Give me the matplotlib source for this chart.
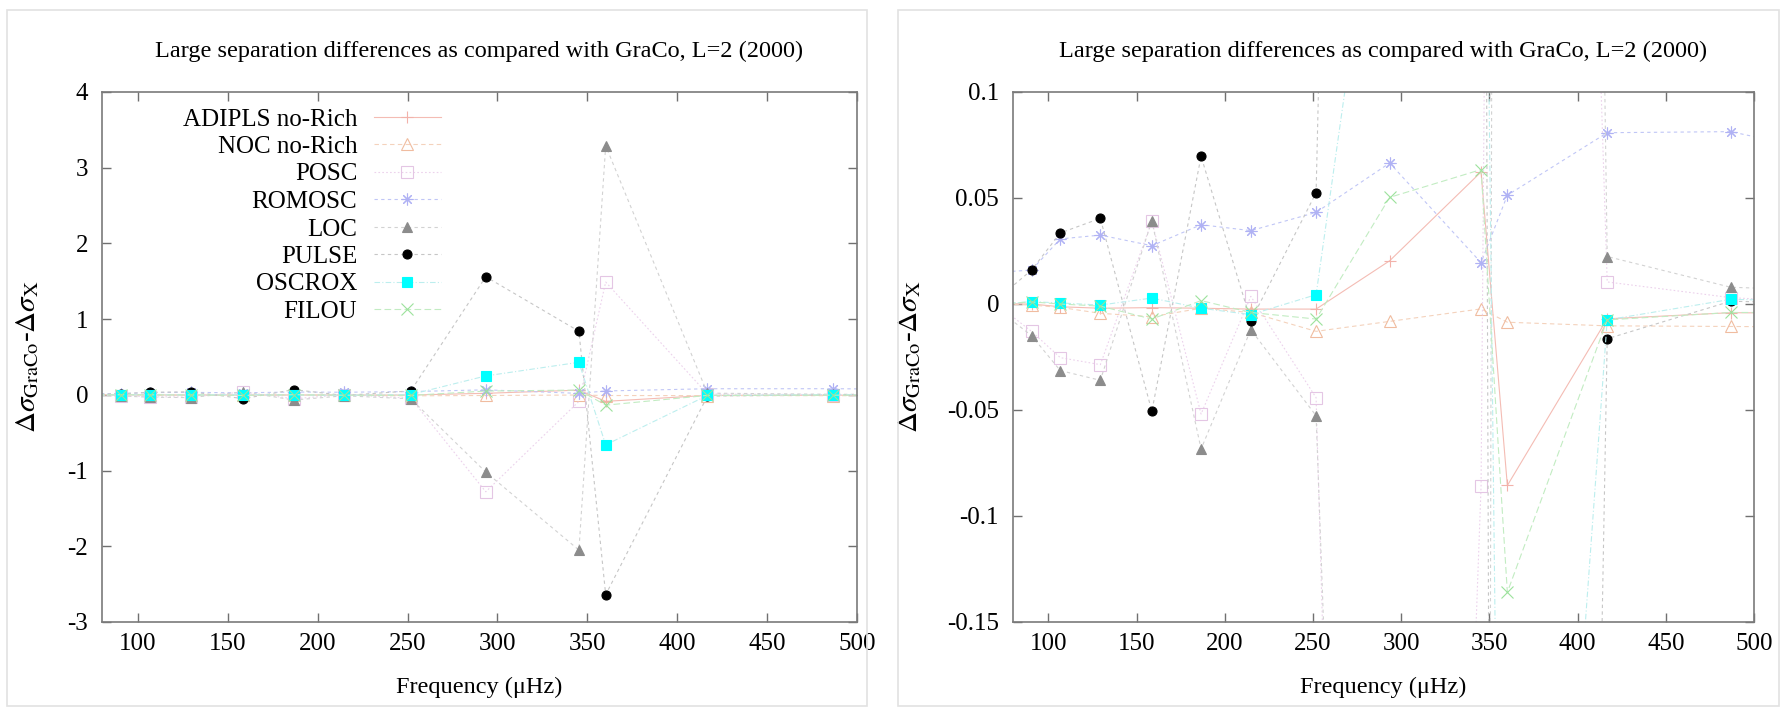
import matplotlib
matplotlib.use("Agg")
import matplotlib.pyplot as plt
from matplotlib.patches import Rectangle
from matplotlib.ticker import FuncFormatter

plt.rcParams['font.family'] = ['Liberation Serif', 'DejaVu Serif']
plt.rcParams['mathtext.fontset'] = 'stix'
plt.rcParams['axes.unicode_minus'] = False

# ---- data ----
freq = [72, 90.5, 106.8, 129.5, 158.7, 186.6, 214.8, 251.8, 293.5, 345.3, 360.2, 416.8, 486.8, 556]
adipls = [0.0, 0.0, -0.0013, -0.002, -0.0017, -0.002, -0.0024, -0.0024, 0.0204, 0.0623, -0.0856, -0.007, -0.0041, -0.0045]
noc = [0.0, -0.0005, -0.0016, -0.0044, -0.006, -0.002, -0.004, -0.0129, -0.0082, -0.0023, -0.0086, -0.0103, -0.0106, -0.011]
posc = [-0.001, -0.0129, -0.0253, -0.0286, 0.039, -0.0519, 0.0036, -0.0442, -1.28, -0.086, 1.49, 0.0104, 0.003, 0.0]
romosc = [0.015, 0.016, 0.0307, 0.0325, 0.0275, 0.0374, 0.0346, 0.0432, 0.0665, 0.0195, 0.0513, 0.0808, 0.0813, 0.069]
loc = [-0.003, -0.0149, -0.0314, -0.036, 0.0392, -0.0684, -0.0121, -0.0527, -1.02, -2.05, 3.29, 0.0224, 0.0079, 0.006]
pulse = [0.003, 0.016, 0.0335, 0.0404, -0.0506, 0.0697, -0.008, 0.0525, 1.56, 0.84, -2.64, -0.0164, 0.0013, 0.0]
oscrox = [0.0, 0.0011, 0.0005, -0.0005, 0.0028, -0.002, -0.005, 0.0044, 0.25, 0.43, -0.66, -0.0075, 0.0022, 0.001]
filou = [0.0, 0.001, 0.0, -0.001, -0.0071, 0.0016, -0.004, -0.0071, 0.0503, 0.0634, -0.136, -0.0075, -0.004, -0.004]

labels = ["ADIPLS no-Rich", "NOC no-Rich", "POSC", "ROMOSC", "LOC", "PULSE", "OSCROX", "FILOU"]
series = [adipls, noc, posc, romosc, loc, pulse, oscrox, filou]
xticks = [100, 150, 200, 250, 300, 350, 400, 450, 500]
yticks_left = [-3, -2, -1, 0, 1, 2, 3, 4]
yticks_right = [-0.15, -0.1, -0.05, 0, 0.05, 0.1]
title = "Large separation differences as compared with GraCo, L=2 (2000)"

styles = [
    dict(color='#f4bcb4', ls='-', marker='+', mfc='#f2b2aa', mec='#f2b2aa', ms=9),
    dict(color='#f4d2bc', ls=(0, (4, 3)), marker='^', mfc='none', mec='#f0bca0', ms=8),
    dict(color='#ecd2ec', ls=(0, (1.5, 2)), marker='s', mfc='none', mec='#e4c6e4', ms=8),
    dict(color='#c0c6f6', ls=(0, (3, 3)), marker=(8, 2, 0), mfc='#b0b2f4', mec='#b0b2f4', ms=8.5),
    dict(color='#d2d2d2', ls=(0, (3, 3)), marker='^', mfc='#8c8c8c', mec='#8c8c8c', ms=7.5),
    dict(color='#c6c6c6', ls=(0, (3, 3)), marker='o', mfc='black', mec='black', ms=6.5),
    dict(color='#bceeee', ls=(0, (5, 2, 1, 2)), marker='s', mfc='#00ffff', mec='#00ffff', ms=7),
    dict(color='#c2ecc2', ls=(0, (6, 3)), marker='x', mfc='#9ce29c', mec='#9ce29c', ms=8),
]

W, H = 1780, 707
fig = plt.figure(figsize=(W / 100, H / 100), dpi=100)

# panel frames
for (x0, x1) in [(7, 867), (898, 1779)]:
    fig.add_artist(Rectangle((x0 / W, 1 - 706 / H), (x1 - x0) / W, (706 - 10) / H,
                             transform=fig.transFigure, fill=False, ec='#e2e2e2', lw=1.2))

def make_axes(left_px, right_px, ylim, yticks, fmt, ylab_x, legend):
    ax = fig.add_axes([left_px / W, (H - 622) / H, (right_px - left_px) / W, 530 / H])
    for s, st in zip(series, styles):
        ax.plot(freq, s, lw=0.8, mew=0.8, **st)
    ax.set_xlim(80, 500)
    ax.set_ylim(*ylim)
    ax.set_xticks(xticks)
    ax.set_yticks(yticks)
    ax.yaxis.set_major_formatter(FuncFormatter(fmt))
    ax.tick_params(direction='in', length=6.5, width=1.0, color='#707070',
                   top=True, right=True, labelsize=18, pad=8)
    ax.tick_params(axis='y', pad=10)
    for sp in ax.spines.values():
        sp.set_color('#7a7a7a')
        sp.set_linewidth(1.2)
    ax.text(0.5, 1 + (92 - 51) / 530, title, transform=ax.transAxes,
            ha='center', va='center', fontsize=17.5)
    ax.set_xlabel("Frequency (μHz)", fontsize=17.5)
    ax.xaxis.set_label_coords(0.5, -(687 - 622) / 530)
    ax.xaxis.label.set_va('center')
    ax.set_ylabel(r'$\Delta\sigma_{\rm GraCo}$-$\Delta\sigma_{\rm X}$', fontsize=21)
    ax.yaxis.set_label_coords((ylab_x - left_px) / (right_px - left_px), 0.5)
    ax.yaxis.label.set_va('center')
    if legend:
        ax.legend(labels, loc='upper right',
                  bbox_to_anchor=((441 - left_px) / (right_px - left_px), 1 - (108 - 92) / 530),
                  markerfirst=False, frameon=False, fontsize=18,
                  handlelength=2.7, handletextpad=0.65, labelspacing=0.2,
                  borderpad=0, borderaxespad=0, numpoints=1)
    return ax

make_axes(102, 857, (-3, 4), yticks_left, lambda v, p: f"{v:g}", 28, True)
make_axes(1013, 1754, (-0.15, 0.1), yticks_right, lambda v, p: f"{v:g}", 910, False)

fig.savefig("out.png", dpi=100)
